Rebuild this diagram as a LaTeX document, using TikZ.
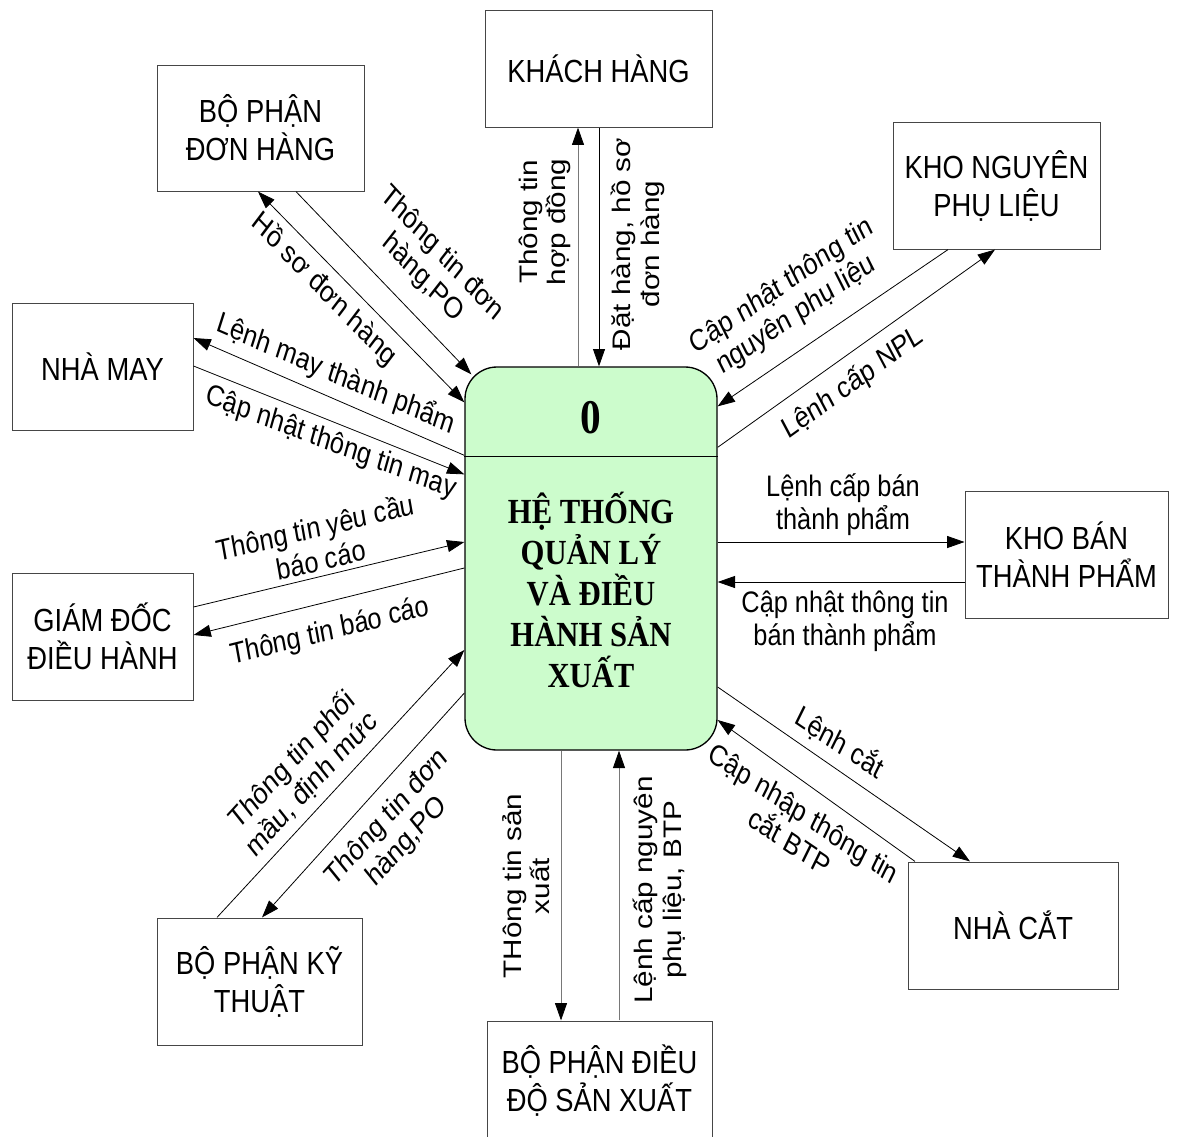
\documentclass[tikz,border=0pt]{standalone}
\usepackage{fontspec}
\setmainfont{Liberation Sans}
\newfontfamily\procfont{Liberation Serif}
\usetikzlibrary{arrows.meta,calc}
\definecolor{procgreen}{RGB}{204,252,204}
\definecolor{boxline}{RGB}{70,70,70}
\definecolor{grayline}{RGB}{120,120,120}
\begin{document}
\begin{tikzpicture}[x=0.75pt,y=-0.75pt,
  % lettering is drawn tall: every text is stretched vertically by 1.17
  entity/.style={draw=boxline, line width=0.75pt, fill=white, align=center,
    inner sep=0pt, yscale=1.17, font=\fontsize{20.5}{24.4}\selectfont},
  process/.style={draw=black, line width=1pt, fill=procgreen, rounded corners=24pt,
    minimum width=189pt, minimum height=287.25pt, inner sep=0pt},
  flow/.style={line width=0.6pt, -{Triangle[length=13pt,width=9pt,color=black]}},
  twoway/.style={line width=0.6pt, {Triangle[length=13pt,width=9pt,color=black]}-{Triangle[length=13pt,width=9pt,color=black]}},
  flowtext/.style={align=center, inner sep=0pt, font=\fontsize{19}{21.2}\selectfont},
]
% canvas
\fill[white] (0,0) rectangle (1181,1136);
\useasboundingbox (0,0) rectangle (1181,1136);

% central process
\node[process] (p) at (591,558.5) {};
\draw[line width=1pt] ($(p.north west)+(0,90)$) -- ($(p.north east)+(0,90)$);
\node[font=\procfont\bfseries\fontsize{31}{31}\selectfont, inner sep=0pt, yscale=1.17] (pnum) at (591,418) {0};
\node[font=\procfont\bfseries\fontsize{23}{26.7}\selectfont, align=center, inner sep=0pt, yscale=1.15] (ptitle) at (591,590)
  {HỆ THỐNG\\QUẢN LÝ\\VÀ ĐIỀU\\HÀNH SẢN\\XUẤT};

% external entities
\node[entity, minimum width=170.25pt, minimum height=75pt] (kh) at (598.5,68.5) {KHÁCH HÀNG};
\node[entity, minimum width=155.25pt, minimum height=80.77pt] (bpdh) at (260.5,128) {BỘ PHẬN\\ĐƠN HÀNG};
\node[entity, minimum width=155.25pt, minimum height=81.41pt] (knpl) at (996.5,185.5) {KHO NGUYÊN\\PHỤ LIỆU};
\node[entity, minimum width=135.75pt, minimum height=81.41pt] (nm) at (102.5,366.5) {NHÀ MAY};
\node[entity, minimum width=152.25pt, minimum height=81.41pt] (kbtp) at (1066.5,554.5) {KHO BÁN\\THÀNH PHẨM};
\node[entity, minimum width=135.75pt, minimum height=81.41pt] (gd) at (102.5,636.5) {GIÁM ĐỐC\\ĐIỀU HÀNH};
\node[entity, minimum width=153.75pt, minimum height=81.41pt] (bpkt) at (259.5,981.5) {BỘ PHẬN KỸ\\THUẬT};
\node[entity, minimum width=157.5pt, minimum height=81.41pt] (nc) at (1013,925.5) {NHÀ CẮT};
\node[entity, minimum width=168.75pt, minimum height=76.9pt] (bpdd) at (599.5,1081) {BỘ PHẬN ĐIỀU\\ĐỘ SẢN XUẤT};

% data flows
\draw[flow, draw=grayline] ($(p.north)+(-13,0)$) -- ($(kh.south)+(-20.5,0)$);
\draw[flow] ($(kh.south)+(0.5,0)$) -- ($(p.north)+(8,0)$);
\draw[flow] ($(bpdh.south)+(35.5,0)$) -- ($(p.north west)+(7,8)$);
\draw[twoway] ($(p.north west)+(0,36)$) -- ($(bpdh.south)+(-2.5,0)$);
\draw[flow] ($(p.north west)+(0,89)$) -- ($(nm.east)+(0,-28.5)$);
\draw[flow] ($(nm.east)+(0,-0.5)$) -- ($(p.north west)+(0,108)$);
\draw[flow] ($(gd.east)+(0,-29.5)$) -- ($(p.west)+(0,-16.5)$);
\draw[flow] ($(p.west)+(0,9.5)$) -- ($(gd.east)+(0,-1.5)$);
\draw[flow] ($(bpkt.north)+(-42.5,0)$) -- ($(p.west)+(0,91.5)$);
\draw[flow] ($(p.west)+(0,134.5)$) -- ($(bpkt.north)+(2.5,0)$);
\draw[flow] ($(knpl.south)+(-48.5,0)$) -- ($(p.north east)+(0,40)$);
\draw[flow] ($(p.north east)+(0,81)$) -- ($(knpl.south)+(-1.5,0)$);
\draw[flow] ($(p.east)+(0,-16.5)$) -- ($(kbtp.west)+(0,-12.5)$);
\draw[flow] ($(kbtp.west)+(0,27.5)$) -- ($(p.east)+(0,23.5)$);
\draw[flow] ($(p.east)+(0,128.5)$) -- ($(nc.north)+(-43,0)$);
\draw[flow] ($(nc.north)+(-98,0)$) -- ($(p.east)+(0,161.5)$);
\draw[flow, draw=grayline] ($(p.south)+(-30,0)$) -- ($(bpdd.north)+(-38.5,0)$);
\draw[flow, draw=grayline] ($(bpdd.north)+(19.5,0)$) -- ($(p.south)+(28,0)$);

% flow labels (rotated first, then stretched like the rest of the lettering)
\node[flowtext, yscale=1.17, rotate=90] (t1) at (545,222) {Thông tin\\hợp đồng};
\node[flowtext, yscale=1.17, rotate=90] (t2) at (638,244) {Đặt hàng, hồ sơ\\đơn hàng};
\node[flowtext, yscale=1.17, rotate=-42.5] (t3) at (432,266) {Thông tin đơn\\hàng,PO};
\node[flowtext, yscale=1.17, rotate=-41.5] (t4) at (324,290) {Hồ sơ đơn hàng};
\node[flowtext, yscale=1.17, rotate=-20.4] (t5) at (336,374) {Lệnh may thành phẩm};
\node[flowtext, yscale=1.17, rotate=-18.2] (t6) at (331,443) {Cập nhật thông tin may};
\node[flowtext, yscale=1.17, rotate=11.6] (t7) at (318,543) {Thông tin yêu cầu\\báo cáo};
\node[flowtext, yscale=1.17, rotate=12] (t8) at (330,632) {Thông tin báo cáo};
\node[flowtext, yscale=1.17, rotate=30.4] (t9) at (789,301) {Cập nhật thông tin\\nguyên phụ liệu};
\node[flowtext, yscale=1.17, rotate=31.8] (t10) at (853,383) {Lệnh cấp NPL};
\node[flowtext, yscale=1.17] (t11) at (843,505) {Lệnh cấp bán\\thành phẩm};
\node[flowtext, yscale=1.17] (t12) at (845,621) {Cập nhật thông tin\\bán thành phẩm};
\node[flowtext, yscale=1.17, rotate=-30] (t13) at (840,742) {Lệnh cắt};
\node[flowtext, yscale=1.17, rotate=-30] (t14) at (797,827) {Cập nhập thông tin\\cắt BTP};
\node[flowtext, yscale=1.17, rotate=43] (t15) at (302,772) {Thông tin phối\\mầu, định mức};
\node[flowtext, yscale=1.17, rotate=43.5] (t16) at (397,830) {Thông tin đơn\\hàng,PO};
\node[flowtext, yscale=1.17, rotate=90] (t17) at (526,886) {THông tin sản\\xuất};
\node[flowtext, yscale=1.17, rotate=90] (t18) at (660,890) {Lệnh cấp nguyên\\phụ liệu, BTP};
\end{tikzpicture}
\end{document}
